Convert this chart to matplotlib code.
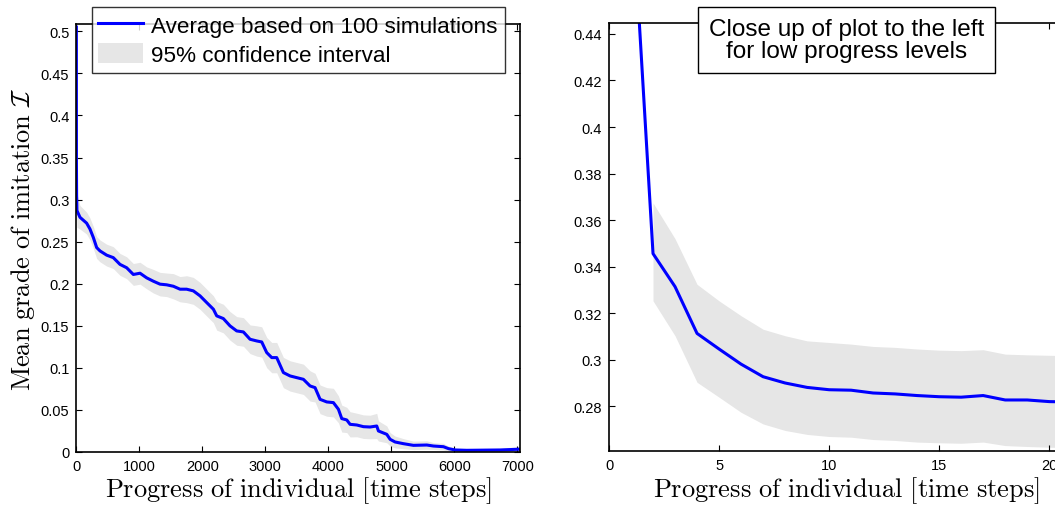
import numpy as np
import matplotlib.pyplot as plt
from matplotlib.lines import Line2D
from matplotlib.patches import Patch
from matplotlib.ticker import FormatStrFormatter

plt.rcParams['font.family'] = ['Liberation Sans', 'DejaVu Sans']
plt.rcParams['mathtext.fontset'] = 'cm'

# left panel: whole run (time steps vs mean grade of imitation)
t_full = [1, 2, 5, 10, 58, 164, 217, 270, 323, 376, 481, 587, 693, 799, 905,
          1011, 1116, 1222, 1328, 1434, 1540, 1646, 1751, 1857, 1963, 2069,
          2175, 2228, 2333, 2439, 2545, 2651, 2757, 2862, 2942, 3021, 3101,
          3180, 3286, 3392, 3497, 3603, 3709, 3788, 3868, 3974, 4079, 4159,
          4212, 4291, 4344, 4450, 4556, 4661, 4767, 4794, 4926, 4979, 5058,
          5190, 5349, 5561, 5667, 5825, 5905, 6011, 6196, 6725, 6989, 7040]
mean_full = [0.505, 0.346, 0.305, 0.287, 0.279, 0.272, 0.265, 0.255, 0.243,
             0.239, 0.234, 0.231, 0.223, 0.219, 0.211, 0.2125, 0.207, 0.203,
             0.1995, 0.1987, 0.197, 0.1935, 0.1935, 0.1915, 0.1856, 0.1776,
             0.1697, 0.1618, 0.1586, 0.1499, 0.1439, 0.1427, 0.134, 0.132,
             0.1308, 0.1182, 0.1122, 0.1122, 0.0944, 0.0904, 0.0884, 0.0864,
             0.0785, 0.0765, 0.0626, 0.0595, 0.0587, 0.0508, 0.0397, 0.0381,
             0.0329, 0.0321, 0.0301, 0.0297, 0.0309, 0.025, 0.021, 0.0151,
             0.0119, 0.0099, 0.0079, 0.0083, 0.0071, 0.0063, 0.004, 0.0024,
             0.002, 0.0024, 0.0032, 0.0034]
ci_half = [0.0, 0.021, 0.02, 0.02, 0.014, 0.013, 0.013, 0.013, 0.013, 0.013,
           0.013, 0.013, 0.013, 0.013, 0.013, 0.013, 0.013, 0.014, 0.014,
           0.014, 0.015, 0.015, 0.016, 0.016, 0.016, 0.016, 0.016, 0.017,
           0.017, 0.017, 0.017, 0.017, 0.017, 0.018, 0.018, 0.018, 0.018,
           0.018, 0.018, 0.018, 0.018, 0.018, 0.018, 0.017, 0.017, 0.017,
           0.017, 0.016, 0.016, 0.015, 0.015, 0.014, 0.014, 0.014, 0.015,
           0.012, 0.01, 0.008, 0.007, 0.006, 0.005, 0.005, 0.004, 0.004,
           0.003, 0.002, 0.002, 0.002, 0.003, 0.003]

# right panel: close up for the first time steps
t_close = list(range(1, 22))
mean_close = [0.505, 0.3456, 0.3314, 0.3113, 0.3046, 0.2981, 0.2927, 0.29,
              0.2881, 0.2871, 0.2869, 0.2857, 0.2853, 0.2846, 0.2841, 0.2839,
              0.2846, 0.2827, 0.2827, 0.282, 0.2818]
upper_close = [0.505, 0.3674, 0.352, 0.3324, 0.3253, 0.3189, 0.3131, 0.3103,
               0.3081, 0.3074, 0.3067, 0.3057, 0.3053, 0.3046, 0.3041, 0.3039,
               0.3043, 0.3024, 0.3021, 0.3019, 0.3017]
lower_close = [0.505, 0.3253, 0.3103, 0.2903, 0.2839, 0.2774, 0.2724, 0.2696,
               0.2679, 0.267, 0.2667, 0.2657, 0.2653, 0.2646, 0.2643, 0.2641,
               0.2646, 0.2631, 0.2627, 0.2624, 0.2622]

W, H = 1055, 506
fig = plt.figure(figsize=(W / 100, H / 100), dpi=100)

blue = (0, 0, 1)
band = (0.9, 0.9, 0.9)
xlab = r'$\mathrm{Progress\ of\ individual\ [time\ steps]}$'


def style(ax):
    for s in ax.spines.values():
        s.set_linewidth(1.2)
    ax.tick_params(direction='in', length=4, width=0.8, top=True, right=True,
                   labelsize=10.5, pad=5)


# left
ax1 = fig.add_axes([76.3 / W, 53 / H, (520 - 76.3) / W, (453 - 25) / H])
t = np.array(t_full)
m = np.array(mean_full)
h = np.array(ci_half)
ax1.fill_between(t[1:], (m - h)[1:], (m + h)[1:], color=band, lw=0)
ax1.plot(t, m, color=blue, lw=2.2)
ax1.set_xlim(0, 7040)
ax1.set_ylim(0, 0.5087)
ax1.set_xticks(np.arange(0, 7001, 1000))
ax1.set_yticks(np.arange(0, 0.501, 0.05))
ax1.yaxis.set_major_formatter(FormatStrFormatter('%g'))
style(ax1)
ax1.set_xlabel(xlab, fontsize=19, labelpad=1)
ax1.set_ylabel(r'$\mathrm{Mean\ grade\ of\ imitation}\ \mathcal{I}$', fontsize=19, labelpad=3)

handles = [Line2D([], [], color=blue, lw=2.2), Patch(facecolor=band, edgecolor='none')]
leg = fig.legend(handles, ['Average based on 100 simulations', '95% confidence interval'],
                 loc='upper left', bbox_to_anchor=(91.7 / W, 1 - 8 / H),
                 fontsize=16.2, frameon=True, fancybox=False, handlelength=2.0,
                 handleheight=1.0, handletextpad=0.35, borderpad=0.3,
                 labelspacing=0.3, borderaxespad=0)
leg.get_frame().set_edgecolor('black')
leg.get_frame().set_linewidth(1.0)

# right
ax2 = fig.add_axes([609 / W, 54.3 / H, 460 / W, (451.7 - 24) / H])
ax2.fill_between(t_close[1:], lower_close[1:], upper_close[1:], color=band, lw=0)
ax2.plot(t_close, mean_close, color=blue, lw=2.2)
ax2.set_xlim(0, 20.9)
ax2.set_ylim(0.2609, 0.4447)
ax2.set_xticks([0, 5, 10, 15, 20])
ax2.set_yticks(np.arange(0.28, 0.441, 0.02))
ax2.yaxis.set_major_formatter(FormatStrFormatter('%g'))
style(ax2)
ax2.set_xlabel(xlab, fontsize=19, labelpad=1)
ax2.xaxis.set_label_coords((846 - 609) / 460, -0.055)
fig.text(846.5 / W, 1 - 41 / H, 'Close up of plot to the left\nfor low progress levels',
         ha='center', va='center', fontsize=17.5, linespacing=1.05,
         bbox=dict(boxstyle='square,pad=0.45', facecolor='white', edgecolor='black', lw=1.0))

fig.savefig('out.png', dpi=100)
